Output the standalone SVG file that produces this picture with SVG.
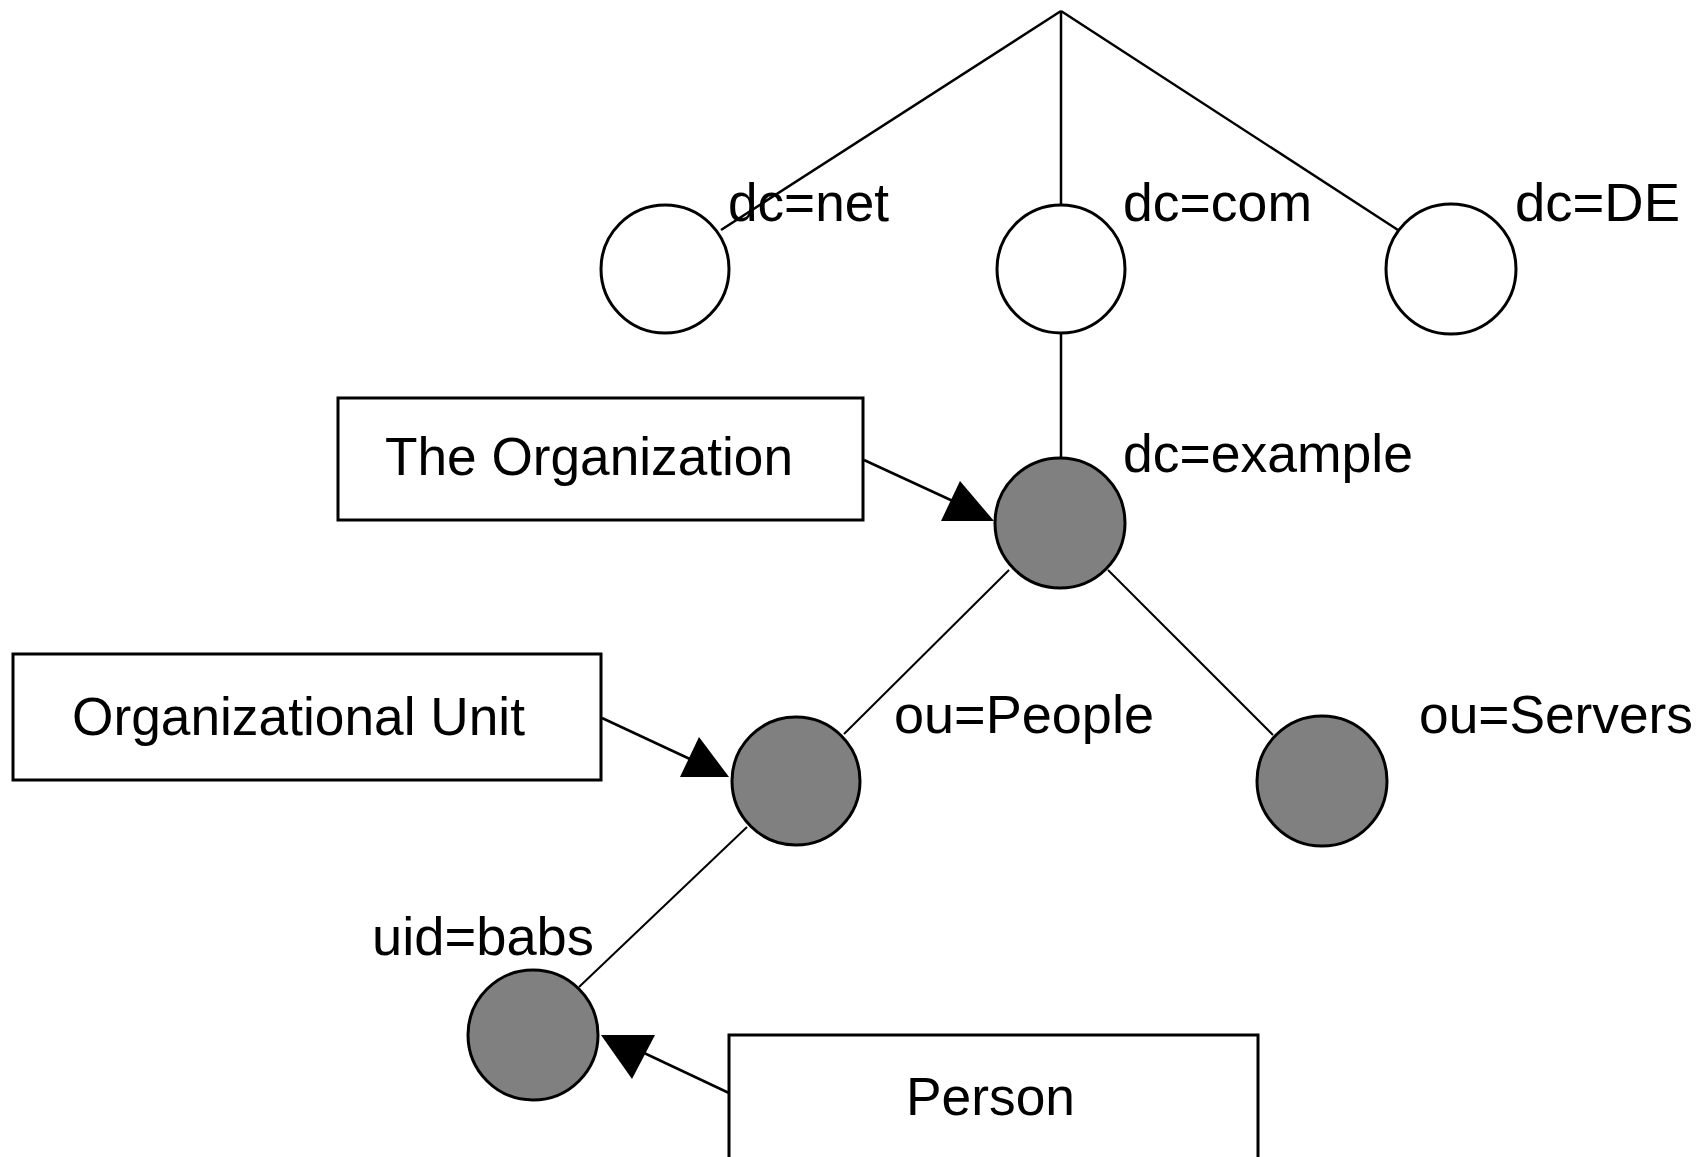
<svg xmlns="http://www.w3.org/2000/svg" width="1702" height="1157" viewBox="0 0 1702 1157">
  <style>
    .line { stroke: #000; stroke-width: 2.5; fill: none; }
    .thin { stroke: #000; stroke-width: 2; fill: none; }
    .head { fill: #000; stroke: none; }
    .entry { stroke: #000; stroke-width: 3; fill: #fff; }
    .entry.used { fill: #808080; }
    .box { stroke: #000; stroke-width: 3; fill: #fff; }
    .label { font-family: "Liberation Sans", Arial, sans-serif; font-size: 54px; fill: #000; }
  </style>
  <rect width="1702" height="1157" fill="#fff"/>

  <!-- tree edges and class pointers -->
  <g id="connectors">
    <line class="line" x1="1061" y1="11" x2="721" y2="230"/>
    <line class="line" x1="1061" y1="11" x2="1061" y2="205"/>
    <line class="line" x1="1061" y1="11" x2="1398" y2="230"/>
    <line class="line" x1="1061" y1="333" x2="1061" y2="458"/>
    <line class="thin" x1="1009" y1="570" x2="844" y2="734"/>
    <line class="thin" x1="1108" y1="570" x2="1273" y2="735"/>
    <line class="thin" x1="747" y1="827" x2="579" y2="987"/>
    <!-- The Organization -> dc=example -->
    <line class="line" x1="864" y1="460" x2="955" y2="502"/>
    <polygon class="head" points="960,481 941,521 994,521"/>
    <!-- Organizational Unit -> ou=People -->
    <line class="line" x1="602" y1="718" x2="692" y2="760"/>
    <polygon class="head" points="699,737 680,777 729,777"/>
    <!-- Person -> uid=babs -->
    <line class="line" x1="729" y1="1093" x2="642" y2="1052"/>
    <polygon class="head" points="601,1035 655,1035 632,1079"/>
  </g>

  <g id="dc-net">
    <circle class="entry" cx="665" cy="269" r="64"/>
    <text class="label" x="728" y="221" textLength="161" lengthAdjust="spacingAndGlyphs">dc=net</text>
  </g>
  <g id="dc-com">
    <circle class="entry" cx="1061" cy="269" r="64"/>
    <text class="label" x="1123" y="221" textLength="189" lengthAdjust="spacingAndGlyphs">dc=com</text>
  </g>
  <g id="dc-DE">
    <circle class="entry" cx="1451" cy="269" r="65"/>
    <text class="label" x="1515" y="221" textLength="165" lengthAdjust="spacingAndGlyphs">dc=DE</text>
  </g>
  <g id="dc-example">
    <circle class="entry used" cx="1060" cy="523" r="65"/>
    <text class="label" x="1123" y="472" textLength="290" lengthAdjust="spacingAndGlyphs">dc=example</text>
  </g>
  <g id="ou-people">
    <circle class="entry used" cx="796" cy="781" r="64"/>
    <text class="label" x="894" y="733" textLength="260" lengthAdjust="spacingAndGlyphs">ou=People</text>
  </g>
  <g id="ou-servers">
    <circle class="entry used" cx="1322" cy="781" r="65"/>
    <text class="label" x="1419" y="733" textLength="274" lengthAdjust="spacingAndGlyphs">ou=Servers</text>
  </g>
  <g id="uid-babs">
    <circle class="entry used" cx="533" cy="1035" r="65"/>
    <text class="label" x="372" y="955" textLength="222" lengthAdjust="spacingAndGlyphs">uid=babs</text>
  </g>

  <g id="class-organization">
    <rect class="box" x="338" y="398" width="525" height="122"/>
    <text class="label" x="385" y="475" textLength="408" lengthAdjust="spacingAndGlyphs">The Organization</text>
  </g>
  <g id="class-orgunit">
    <rect class="box" x="13" y="654" width="588" height="126"/>
    <text class="label" x="72" y="735" textLength="453" lengthAdjust="spacingAndGlyphs">Organizational Unit</text>
  </g>
  <g id="class-person">
    <rect class="box" x="729" y="1035" width="529" height="200"/>
    <text class="label" x="906" y="1115" textLength="169" lengthAdjust="spacingAndGlyphs">Person</text>
  </g>
</svg>
